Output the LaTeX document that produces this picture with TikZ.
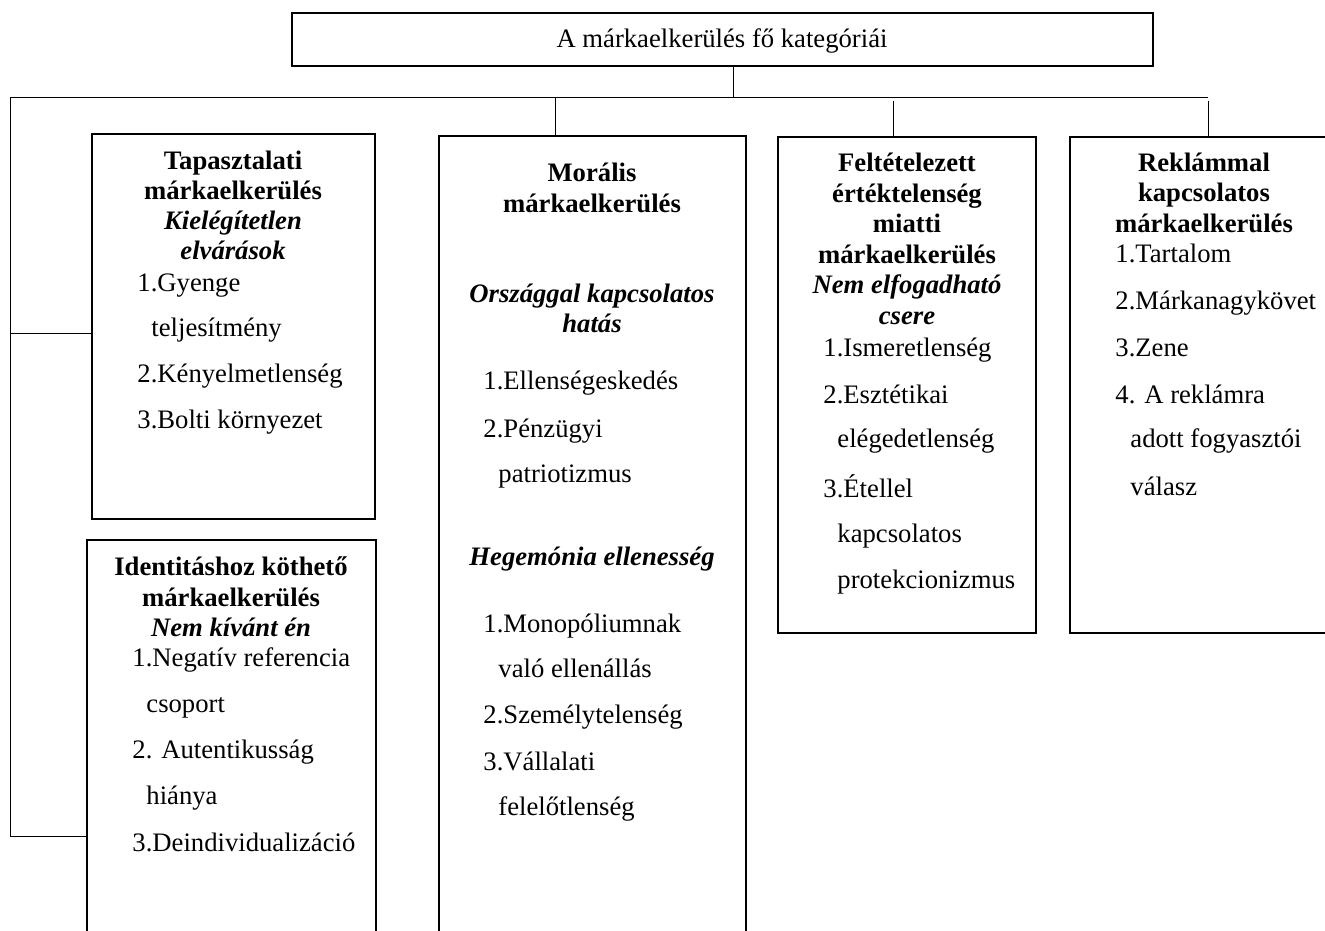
\documentclass[tikz,border=0pt]{standalone}
\usepackage{fontspec}
\setmainfont{Liberation Serif}
\usetikzlibrary{fit}

\newcommand\twelvept{\fontsize{12pt}{14pt}\selectfont}
\tikzset{
  box/.style={draw, line width=0.9pt, inner sep=0pt},
  link/.style={line width=0.45pt},
  head/.style={anchor=base, inner sep=0pt, font=\twelvept\bfseries},
  sub/.style={anchor=base, inner sep=0pt, font=\twelvept\bfseries\itshape},
  item/.style={anchor=base west, inner sep=0pt, font=\twelvept}
}

\begin{document}
\begin{tikzpicture}[x=0.45pt, y=-0.45pt, font=\twelvept]
\useasboundingbox (0,0) rectangle (1325,931);

% boxes
\node[box, fit={(292,13) (1153,66)}] (title) {};
\node[box, fit={(92,134) (375,519)}] (tap) {};
\node[box, fit={(87,540) (376,960)}] (ident) {};
\node[box, fit={(439,136) (746,960)}] (moral) {};
\node[box, fit={(778,137) (1036,633)}] (feltet) {};
\node[box, fit={(1070,137) (1338,633)}] (reklam) {};
\node[anchor=base, inner sep=0pt] (title-t) at (722,48) {A márkaelkerülés fő kategóriái};

% connectors
\coordinate (stemx) at (733,98);
\coordinate (busL) at (10,98);
\coordinate (busR) at (1208,98);
\coordinate (midL) at (10,334);
\coordinate (lowL) at (10,836);
\coordinate (stubM) at (555,98);
\coordinate (stubF) at (893,101);
\coordinate (stubR) at (1208,101);
\draw[link] (title.south -| stemx) -- (stemx);
\draw[link] (busL) -- (busR);
\draw[link] (busL) -- (lowL) -- (lowL -| ident.west);
\draw[link] (midL) -- (midL -| tap.west);
\draw[link] (stubM) -- (stubM |- moral.north);
\draw[link] (stubF) -- (stubF |- feltet.north);
\draw[link] (stubR) -- (stubR |- reklam.north);

% Tapasztalati
\foreach \y/\t [count=\i] in {170/Tapasztalati, 200/márkaelkerülés}
  \node[head] (tap-h\i) at (233,\y) {\t};
\foreach \y/\t [count=\i] in {230/Kielégítetlen, 260/elvárások}
  \node[sub] (tap-s\i) at (233,\y) {\t};
\foreach \x/\y/\t [count=\i] in {137/292/1.Gyenge, 151/337/teljesítmény,
    137/383/2.Kényelmetlenség, 137/428/3.Bolti környezet}
  \node[item] (tap-i\i) at (\x,\y) {\t};

% Identitas
\foreach \y/\t [count=\i] in {575/Identitáshoz köthető, 606/márkaelkerülés}
  \node[head] (ident-h\i) at (231,\y) {\t};
\node[sub] (ident-s1) at (231,636) {Nem kívánt én};
\foreach \x/\y/\t [count=\i] in {132/666/1.Negatív referencia, 146/712/csoport,
    132/758/2. Autentikusság, 146/804/hiánya, 132/851/3.Deindividualizáció}
  \node[item] (ident-i\i) at (\x,\y) {\t};

% Moralis
\foreach \y/\t [count=\i] in {182/Morális, 213/márkaelkerülés}
  \node[head] (moral-h\i) at (592,\y) {\t};
\foreach \y/\t [count=\i] in {303/Országgal kapcsolatos, 333/hatás, 565/Hegemónia ellenesség}
  \node[sub] (moral-s\i) at (592,\y) {\t};
\foreach \x/\y/\t [count=\i] in {483/390/1.Ellenségeskedés, 483/437/2.Pénzügyi,
    498/482/patriotizmus, 483/632/1.Monopóliumnak, 498/677/való ellenállás,
    483/723/2.Személytelenség, 483/770/3.Vállalati, 498/815/felelőtlenség}
  \node[item] (moral-i\i) at (\x,\y) {\t};

% Feltetelezett
\foreach \y/\t [count=\i] in {172/Feltételezett, 202.5/értéktelenség,
    233/miatti, 263.5/márkaelkerülés}
  \node[head] (feltet-h\i) at (907,\y) {\t};
\foreach \y/\t [count=\i] in {294/Nem elfogadható, 324.5/csere}
  \node[sub] (feltet-s\i) at (907,\y) {\t};
\foreach \x/\y/\t [count=\i] in {823/357/1.Ismeretlenség, 823/403/2.Esztétikai,
    837/448/elégedetlenség, 823/497/3.Étellel, 837/542/kapcsolatos,
    837/588/protekcionizmus}
  \node[item] (feltet-i\i) at (\x,\y) {\t};

% Reklammal
\foreach \y/\t [count=\i] in {172/Reklámmal, 202/kapcsolatos, 233/márkaelkerülés}
  \node[head] (reklam-h\i) at (1204,\y) {\t};
\foreach \x/\y/\t [count=\i] in {1115/263/1.Tartalom, 1115/310/2.Márkanagykövet,
    1115/357/3.Zene, 1115/403/4. A reklámra, 1130/448/adott fogyasztói,
    1130/495/válasz}
  \node[item] (reklam-i\i) at (\x,\y) {\t};
\end{tikzpicture}
\end{document}
